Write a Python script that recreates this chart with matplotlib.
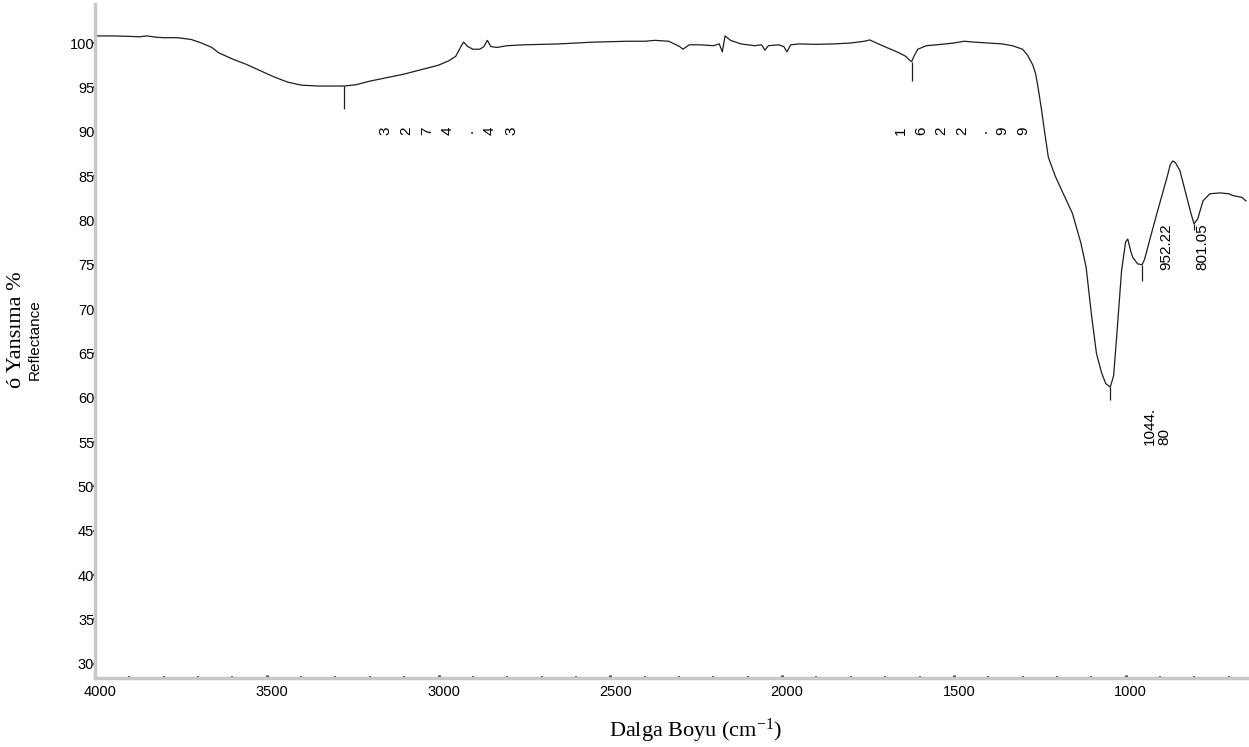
import numpy as np
import matplotlib
matplotlib.use("Agg")
import matplotlib.pyplot as plt
import matplotlib.transforms as mtransforms

# ------------------------------------------------------
# FTIR reflectance spectrum (wavenumber, %R)
# ------------------------------------------------------

wavenumber = [
    4000, 3950, 3900, 3870, 3850, 3820, 3800, 3760, 3720, 3690,
    3660, 3640, 3600, 3560, 3520, 3480, 3440, 3400, 3350, 3300,
    3274.43, 3240, 3200, 3150, 3100, 3050, 3000, 2970, 2950, 2935,
    2927, 2915, 2900, 2880, 2868, 2858, 2848, 2830, 2800, 2750,
    2700, 2650, 2600, 2550, 2500, 2450, 2400, 2370, 2330, 2298,
    2289, 2270, 2240, 2200, 2183, 2174, 2166, 2150, 2120, 2080,
    2060, 2050, 2040, 2010, 1995, 1986, 1975, 1950, 1900, 1850,
    1800, 1760, 1745, 1720, 1690, 1660, 1640, 1630, 1622.99, 1615,
    1605, 1580, 1550, 1500, 1470, 1440, 1400, 1360, 1330, 1300,
    1285, 1270, 1262, 1255, 1245, 1236, 1225, 1205, 1185, 1155,
    1130, 1115, 1100, 1085, 1070, 1058, 1044.80, 1035, 1025, 1012,
    1000, 994, 985, 979, 965, 952.22, 945, 930, 909, 880,
    870, 863, 855, 842, 822, 810, 801.05, 790, 775, 755,
    726, 700, 688, 662, 650,
]

reflectance = [
    100.8, 100.8, 100.75, 100.7, 100.8, 100.65, 100.6, 100.6, 100.4, 100.0,
    99.5, 98.9, 98.2, 97.6, 96.9, 96.2, 95.6, 95.25, 95.15, 95.15,
    95.15, 95.3, 95.7, 96.1, 96.5, 97.0, 97.5, 98.0, 98.5, 99.6,
    100.1, 99.6, 99.3, 99.3, 99.6, 100.3, 99.6, 99.5, 99.7, 99.8,
    99.85, 99.9, 100.0, 100.1, 100.15, 100.2, 100.2, 100.3, 100.2, 99.6,
    99.3, 99.8, 99.8, 99.7, 99.9, 99.0, 100.8, 100.3, 99.9, 99.7,
    99.8, 99.2, 99.7, 99.8, 99.6, 99.0, 99.8, 99.9, 99.85, 99.9,
    100.0, 100.2, 100.35, 99.9, 99.4, 98.9, 98.5, 98.1, 97.9, 98.6,
    99.3, 99.7, 99.8, 100.0, 100.2, 100.1, 100.0, 99.9, 99.7, 99.3,
    98.6, 97.5, 96.5, 95.0, 92.5, 90.0, 87.1, 85.0, 83.3, 80.8,
    77.4, 74.7, 69.5, 65.0, 62.8, 61.6, 61.2, 62.5, 67.5, 74.3,
    77.6, 77.9, 76.5, 75.8, 75.1, 75.0, 75.6, 77.8, 80.8, 84.8,
    86.3, 86.7, 86.5, 85.6, 82.6, 80.8, 79.6, 80.2, 82.2, 83.0,
    83.1, 83.0, 82.8, 82.6, 82.2,
]

# picked peaks: position, spectrum value, bottom of marker
peak_wn = [3274.43, 1622.99, 1044.80, 952.22, 801.05]
peak_top = [95.15, 97.9, 61.2, 75.0, 79.6]
peak_bottom = [92.6, 95.7, 59.7, 73.2, 78.9]

# peak labels printed one character at a time
spread_labels = ["3274.43", "1622.99"]
spread_start = [3156, 1654]
spread_step = [61.2, 59.2]
spread_y = 90.1

# peak labels printed as whole rotated strings
block_labels = ["1044.\n80", "952.22", "801.05"]
block_x = [909, 883, 777]
block_y = [54.7, 74.4, 74.4]

y_ticks = np.arange(30, 101, 5)
x_ticks = [4000, 3500, 3000, 2500, 2000, 1500, 1000]

SANS = "Liberation Sans"
SERIF = "Liberation Serif"

# ======================================================
# FIGURE
# ======================================================

fig = plt.figure(figsize=(12.49, 7.47), dpi=100)
ax = fig.add_axes([95 / 1249, 1 - 678 / 747, 1 - 95 / 1249, (678 - 4) / 747])

ax.plot(wavenumber, reflectance, color="#1e1e1e", linewidth=0.9)
ax.vlines(peak_wn, peak_bottom, peak_top, color="#1e1e1e", linewidth=0.9)

ax.set_xlim(4000, 641)
ax.set_ylim(28.4, 104.4)

for lab, x0, step in zip(spread_labels, spread_start, spread_step):
    for i, ch in enumerate(lab):
        ax.text(x0 - i * step, spread_y, ch, rotation=90,
                ha="center", va="center", fontsize=11, family=SANS)

for lab, x, y in zip(block_labels, block_x, block_y):
    ax.text(x, y, lab, rotation=90, ha="center", va="bottom",
            multialignment="left", fontsize=11, family=SANS,
            linespacing=1.0)

# ------------------------------------------------------
# axes styling
# ------------------------------------------------------

for side in ["top", "right"]:
    ax.spines[side].set_visible(False)
for side in ["left", "bottom"]:
    ax.spines[side].set_color("#c8c8c8")
    ax.spines[side].set_linewidth(2.5)

ax.set_yticks(y_ticks)
ax.set_xticks(x_ticks)
ax.set_xticks(np.arange(700, 4001, 100), minor=True)

ax.tick_params(axis="y", direction="out", length=1.5, width=1.5,
               color="#333333", pad=-1, labelsize=10.5)
ax.tick_params(axis="x", which="major", direction="in", length=2.5,
               width=2, color="#222222", pad=5, labelsize=10.5)
ax.tick_params(axis="x", which="minor", direction="in", length=1.5,
               width=1.5, color="#444444")

for lbl in ax.get_xticklabels() + ax.get_yticklabels():
    lbl.set_family(SANS)

# x tick labels sit a little right of their ticks
shift = mtransforms.ScaledTranslation(5 / 100, 0, fig.dpi_scale_trans)
for lbl in ax.get_xticklabels():
    lbl.set_transform(lbl.get_transform() + shift)

# ------------------------------------------------------
# axis titles
# ------------------------------------------------------

fig.text(695 / 1249, 1 - 731 / 747,
         "Dalga Boyu (cm$\\mathregular{^{-1}}$)",
         ha="center", va="center", fontsize=16, family=SERIF)

fig.text(17 / 1249, 1 - 330 / 747, "ó Yansıma %", rotation=90,
         ha="center", va="center", fontsize=16, family=SERIF)
fig.text(35 / 1249, 1 - 340 / 747, "Reflectance", rotation=90,
         ha="center", va="center", fontsize=11, family=SANS)

fig.savefig("out.png", dpi=100)
